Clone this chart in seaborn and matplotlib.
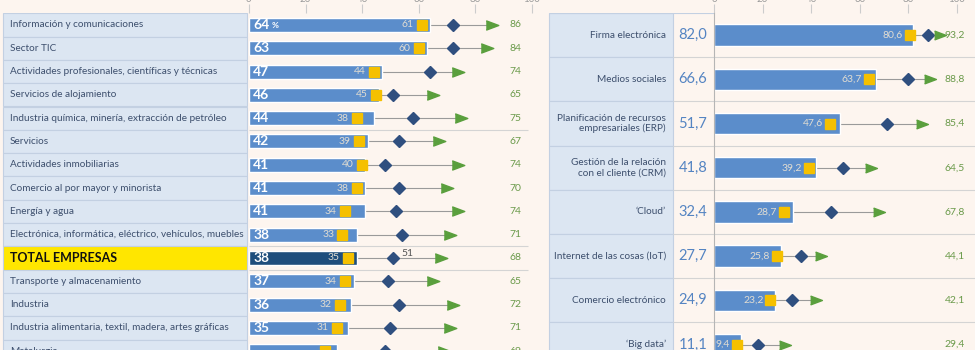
import numpy as np
import matplotlib.pyplot as plt
import seaborn as sns
from matplotlib.patches import Rectangle

# --- data ---------------------------------------------------------------
sectors = ["Información y comunicaciones", "Sector TIC",
           "Actividades profesionales, científicas y técnicas",
           "Servicios de alojamiento",
           "Industria química, minería, extracción de petróleo",
           "Servicios", "Actividades inmobiliarias",
           "Comercio al por mayor y minorista", "Energía y agua",
           "Electrónica, informática, eléctrico, vehículos, muebles",
           "TOTAL EMPRESAS", "Transporte y almacenamiento", "Industria",
           "Industria alimentaria, textil, madera, artes gráficas",
           "Metalurgia"]
sector_now = [64, 63, 47, 46, 44, 42, 41, 41, 41, 38, 38, 37, 36, 35, 31]
sector_prev = [61, 60, 44, 45, 38, 39, 40, 38, 34, 33, 35, 34, 32, 31, 27]
sector_mid = [72, 72, 64, 51, 58, 53, 48, 53, 52, 54, 51, 49, 53, 50, 48]
sector_top = [86, 84, 74, 65, 75, 67, 74, 70, 74, 71, 68, 65, 72, 71, 69]

tools = ["Firma electrónica", "Medios sociales",
         "Planificación de recursos\nempresariales (ERP)",
         "Gestión de la relación\ncon el cliente (CRM)",
         "‘Cloud’", "Internet de las cosas (IoT)",
         "Comercio electrónico", "‘Big data’"]
tool_now = [82.0, 66.6, 51.7, 41.8, 32.4, 27.7, 24.9, 11.1]
tool_prev = [80.6, 63.7, 47.6, 39.2, 28.7, 25.8, 23.2, 9.4]
tool_mid = [88, 80, 71, 53, 48, 36, 32, 18]
tool_top = [93.2, 88.8, 85.4, 64.5, 67.8, 44.1, 42.1, 29.4]

# --- style --------------------------------------------------------------
sns.set_theme(style="white")
plt.rcParams['font.family'] = ['Lato', 'DejaVu Sans']

W, H = 975, 350
bg = '#fdf5ef'
cell = '#dce6f2'
cell_edge = '#c3d0e2'
bar_c = '#5b8dcb'
total_c = '#1f4e7c'
sq_c = '#f5c000'
dia_c = '#2f4f7f'
tri_c = '#5a9f3d'
green_txt = '#6a9a4a'
lab_txt = '#3d4f6d'
grid_c = '#d4d4d4'
tri_marker = [(-1, -0.75), (1, 0), (-1, 0.75)]

fig = plt.figure(figsize=(W / 100, H / 100), dpi=100, facecolor=bg)


def px_axes(left, right, top):
    a = fig.add_axes([left / W, 0, (right - left) / W, (H - top) / H])
    a.set_facecolor('none')
    return a


def fmt(v):
    return f"{v:.1f}".replace('.', ',')


# ======================= left panel =====================================
n1 = len(sectors)
top1, step1 = 13.3, 23.3
ylim1 = ((H - top1) / step1 - 0.5, -0.5)

labL = px_axes(0, 249, top1)
labL.set_xlim(0, 249)
labL.set_ylim(*ylim1)
labL.axis('off')
for i, name in enumerate(sectors):
    total = name == "TOTAL EMPRESAS"
    labL.add_patch(Rectangle((3, i - 0.5), 244, 1,
                             facecolor='#ffe600' if total else cell,
                             edgecolor=cell_edge, lw=0.8))
    if total:
        labL.text(10, i, name, fontsize=9, fontweight='bold', color='#111111',
                  va='center')
    else:
        labL.text(10, i, name, fontsize=7.2, color=lab_txt, va='center')

ax1 = px_axes(249, 532, top1)
colors1 = [total_c if s == "TOTAL EMPRESAS" else bar_c for s in sectors]
sns.barplot(x=sector_now, y=sectors, hue=sectors, palette=colors1,
            legend=False, width=0.6, saturation=1, ax=ax1)
pos1 = np.arange(n1)
ax1.hlines(pos1, sector_prev, sector_top, color='#9a9a9a', lw=0.8, zorder=0.5)
ax1.hlines([4.5, 9.5, 10.5], 0, 98.5, color=grid_c, lw=0.8, zorder=0.4)
ax1.plot(sector_prev, pos1, 's', ms=6.5, color=sq_c, ls='none', zorder=4)
ax1.plot(sector_mid, pos1, 'D', ms=6, color=dia_c, ls='none', zorder=4)
ax1.plot(sector_top, pos1, marker=tri_marker, ms=9, color=tri_c, ls='none',
         zorder=4)
for i in range(n1):
    ax1.annotate(str(sector_now[i]), (0, i), xytext=(3, 0),
                 textcoords='offset points', ha='left', va='center',
                 fontsize=10, fontweight='bold', color='white', zorder=5)
    ax1.annotate(str(sector_prev[i]), (sector_prev[i], i), xytext=(-6, 0),
                 textcoords='offset points', ha='right', va='center',
                 fontsize=7.5, color='#e2ddd2', zorder=5)
    ax1.text(94, i, str(sector_top[i]), fontsize=7.5, color=green_txt,
             ha='center', va='center')
ax1.annotate('%', (0, 0), xytext=(16, -0.5), textcoords='offset points',
             ha='left', va='center', fontsize=6, color='white',
             fontweight='bold', zorder=5)
ax1.annotate('51', (sector_mid[10], 10), xytext=(6, 3.5),
             textcoords='offset points', ha='left', va='center',
             fontsize=7.5, color='#555555')

# ======================= right panel ====================================
n2 = len(tools)
top2, step2 = 13.0, 44.2
ylim2 = ((H - top2) / step2 - 0.5, -0.5)

labR = px_axes(532, 714, top2)
labR.set_xlim(532, 714)
labR.set_ylim(*ylim2)
labR.axis('off')
labR.hlines([-0.5], 549, 714, color=cell_edge, lw=0.8)
for i, name in enumerate(tools):
    labR.add_patch(Rectangle((549, i - 0.5), 124, 1, facecolor=cell,
                             edgecolor=cell_edge, lw=0.8))
    labR.text(666, i, name, fontsize=7.2, color=lab_txt, ha='right',
              va='center', linespacing=1.15)
    labR.text(693, i, fmt(tool_now[i]), fontsize=10.5, color='#5484c2',
              ha='center', va='center')
labR.hlines(np.arange(n2) + 0.5, 673, 714, color=grid_c, lw=0.8)

ax2 = px_axes(714, 975, top2)
sns.barplot(x=tool_now, y=tools, color=bar_c, width=0.48, saturation=1,
            ax=ax2)
pos2 = np.arange(n2)
ax2.hlines(pos2 + 0.5, 0, 110, color=grid_c, lw=0.8, zorder=0.4)
ax2.hlines(pos2, tool_prev, tool_top, color='#9a9a9a', lw=0.8, zorder=0.5)
ax2.plot(tool_prev, pos2, 's', ms=6.5, color=sq_c, ls='none', zorder=4)
ax2.plot(tool_mid, pos2, 'D', ms=6.2, color=dia_c, ls='none', zorder=4)
ax2.plot(tool_top, pos2, marker=tri_marker, ms=8.5, color=tri_c, ls='none',
         zorder=4)
for i in range(n2):
    ax2.annotate(fmt(tool_prev[i]), (tool_prev[i], i), xytext=(-5, 0),
                 textcoords='offset points', ha='right', va='center',
                 fontsize=7.5, color='#e2ddd2', zorder=5)
    ax2.text(99.2, i, fmt(tool_top[i]), fontsize=7.5, color=green_txt,
             ha='center', va='center')

# --- axes cosmetics -----------------------------------------------------
for ax, ylim, xmax in [(ax1, ylim1, 100), (ax2, ylim2, (W - 714) / 2.43)]:
    ax.set_xlim(0, xmax)
    ax.set_ylim(*ylim)
    ax.set_xlabel('')
    ax.set_ylabel('')
    ax.set_yticks([])
    ax.xaxis.tick_top()
    ax.set_xticks([0, 20, 40, 60, 80, 100])
    ax.tick_params(axis='x', length=6.5, width=0.8, color='#cccccc',
                   labelsize=7, labelcolor='#999999', pad=0.3)
    for s in ax.spines.values():
        s.set_visible(False)
ax2.spines['left'].set_visible(True)
ax2.spines['left'].set_color('#b5b5b5')
ax2.spines['left'].set_linewidth(0.8)

fig.savefig('out.png', dpi=100, facecolor=bg)
